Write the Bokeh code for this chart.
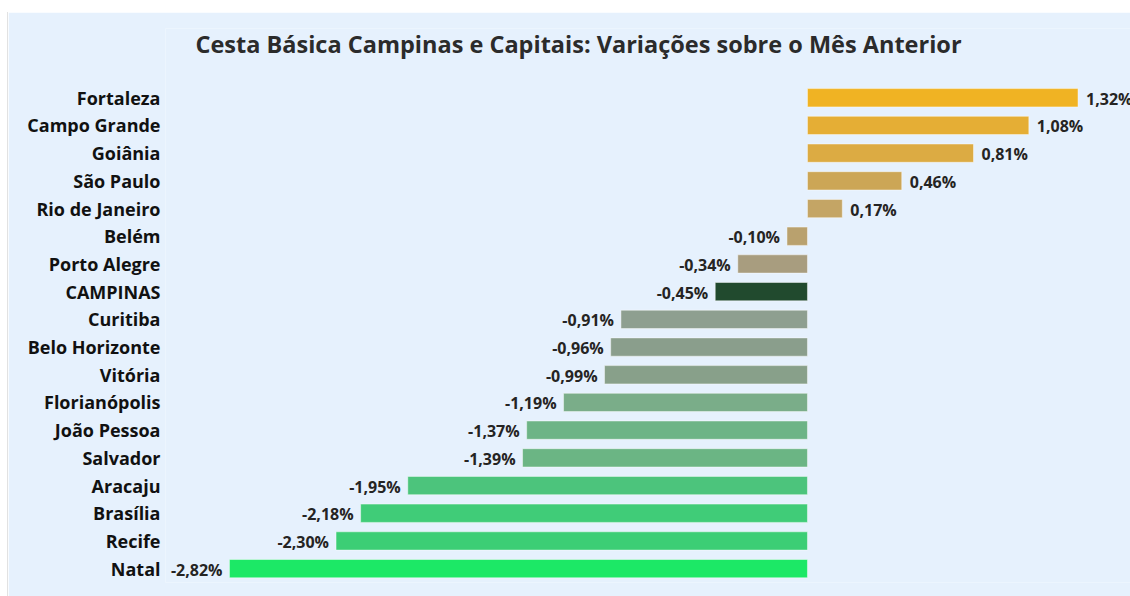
from bokeh.plotting import figure
from bokeh.models import ColumnDataSource, Range1d, FactorRange, Spacer
from bokeh.layouts import column, row
from bokeh.core.properties import value
from bokeh.embed import file_html
from bokeh.resources import INLINE

cities = ["Fortaleza", "Campo Grande", "Goiânia", "São Paulo", "Rio de Janeiro", "Belém",
          "Porto Alegre", "CAMPINAS", "Curitiba", "Belo Horizonte", "Vitória", "Florianópolis",
          "João Pessoa", "Salvador", "Aracaju", "Brasília", "Recife", "Natal"]
values = [1.32, 1.08, 0.81, 0.46, 0.17, -0.10, -0.34, -0.45, -0.91, -0.96, -0.99, -1.19,
          -1.37, -1.39, -1.95, -2.18, -2.30, -2.82]
colors = ["#F0B323", "#E5AE35", "#DCAB43", "#CCA656", "#C4A565", "#B9A16E", "#A89D7F",
          "#214A2E", "#8E9F90", "#8A9E8C", "#88A08A", "#7AAD89", "#6DB486", "#6BB584",
          "#4CC47C", "#40CC78", "#3CCE75", "#1CE866"]
title_text = "Cesta Básica Campinas e Capitais: Variações sobre o Mês Anterior"

labels = [f"{v:.2f}%".replace(".", ",") for v in values]

BG = "#E6F1FD"
FONT = "Open Sans"

# two empty rows on top of the category axis hold the chart title
title_rows = ["  ", " "]
factors = cities[::-1] + title_rows[::-1]

src = ColumnDataSource(dict(city=cities, value=values, color=colors, label=labels))
pos_idx = [i for i, v in enumerate(values) if v >= 0]
neg_idx = [i for i, v in enumerate(values) if v < 0]
src_pos = ColumnDataSource(dict(city=[cities[i] for i in pos_idx], value=[values[i] for i in pos_idx],
                                label=[labels[i] for i in pos_idx]))
src_neg = ColumnDataSource(dict(city=[cities[i] for i in neg_idx], value=[values[i] for i in neg_idx],
                                label=[labels[i] for i in neg_idx]))

X_START, X_END = -3.132, 1.576

p = figure(width=1122, height=584, y_range=FactorRange(factors=factors),
           x_range=Range1d(X_START, X_END), output_backend="svg", toolbar_location=None,
           min_border_left=157, min_border_right=0, min_border_top=16, min_border_bottom=14,
           background_fill_color=BG, border_fill_color=BG, outline_line_color=None)

# title centred at ~43% of the frame width
title_x = X_START + 0.428 * (X_END - X_START)
p.text(x=[title_x], y=[title_rows[0]], text=[title_text], text_align="center",
       text_baseline="middle", y_offset=2, text_font=value(FONT), text_font_size="23.5px",
       text_font_style="bold", text_color="#2B2B2B")

p.hbar(y="city", right="value", left=0, height=0.66, fill_color="color", line_color="#FFFFFF",
       line_alpha=0.45, line_width=1, source=src)

p.text(x="value", y="city", text="label", source=src_pos, text_align="left", text_baseline="middle",
       x_offset=8, y_offset=1, text_font=value(FONT), text_font_size="16px", text_font_style="bold",
       text_color="#252423")
p.text(x="value", y="city", text="label", source=src_neg, text_align="right", text_baseline="middle",
       x_offset=-7, y_offset=1, text_font=value(FONT), text_font_size="16px", text_font_style="bold",
       text_color="#252423")

p.xaxis.visible = False
p.xgrid.visible = False
p.ygrid.visible = False
p.yaxis.axis_line_color = None
p.yaxis.major_tick_line_color = None
p.yaxis.minor_tick_line_color = None
p.yaxis.major_tick_out = 0
p.yaxis.major_tick_in = 0
p.yaxis.major_label_standoff = 5
p.yaxis.major_label_text_font = FONT
p.yaxis.major_label_text_font_size = "18px"
p.yaxis.major_label_text_font_style = "bold"
p.yaxis.major_label_text_color = "#111111"

layout = column(Spacer(width=1130, height=12),
                row(Spacer(width=7, height=584),
                    Spacer(width=1, height=584, styles={"background-color": "#E2E2E2"}),
                    p))

open("out.html", "w").write(file_html(layout, INLINE))
